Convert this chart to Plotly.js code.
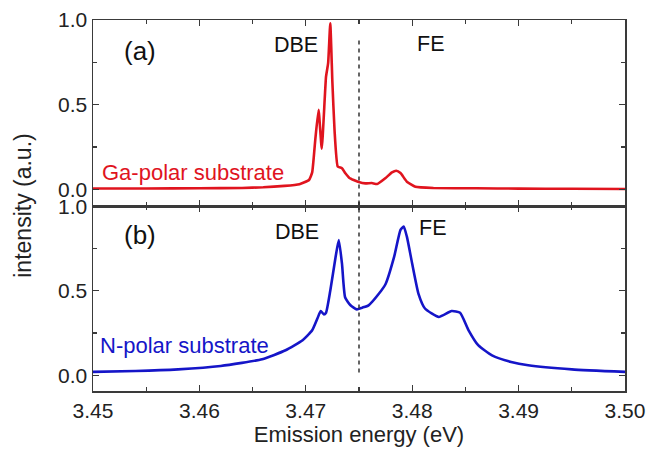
<!DOCTYPE html>
<html>
<head>
<meta charset="utf-8">
<script src="https://cdn.plot.ly/plotly-3.0.1.min.js"></script>
<style>html,body{margin:0;padding:0;background:#fff;}#chart{width:654px;height:450px;}</style>
</head>
<body>
<div id="chart"></div>
<script>
// Panel (a): Ga-polar substrate
const energyA = [3.450, 3.455, 3.460, 3.464, 3.466, 3.468, 3.4694, 3.4703, 3.4706, 3.4709, 3.4712, 3.4715, 3.4719, 3.4721, 3.4723, 3.4725, 3.4727, 3.4730, 3.4734, 3.4737, 3.4741, 3.4745, 3.4749, 3.4756, 3.4762, 3.4767, 3.4775, 3.4781, 3.4785, 3.4789, 3.4795, 3.4803, 3.482, 3.486, 3.490, 3.495, 3.500];
const intensityA = [0.005, 0.005, 0.006, 0.008, 0.012, 0.020, 0.030, 0.055, 0.10, 0.30, 0.47, 0.24, 0.665, 0.745, 0.98, 0.63, 0.35, 0.135, 0.125, 0.096, 0.067, 0.055, 0.045, 0.035, 0.037, 0.031, 0.067, 0.100, 0.110, 0.096, 0.045, 0.015, 0.008, 0.006, 0.004, 0.003, 0.002];
// Panel (b): N-polar substrate
const energyB = [3.450, 3.454, 3.458, 3.462, 3.4659, 3.4681, 3.4697, 3.4706, 3.4711, 3.4714, 3.4717, 3.4719, 3.4723, 3.4728, 3.4731, 3.4734, 3.4737, 3.4742, 3.4748, 3.4753, 3.4759, 3.4769, 3.4775, 3.4783, 3.4789, 3.4792, 3.4795, 3.4800, 3.4806, 3.4812, 3.4825, 3.4837, 3.4845, 3.4853, 3.4862, 3.4875, 3.4893, 3.4909, 3.495, 3.500];
const intensityB = [0.02, 0.025, 0.035, 0.055, 0.095, 0.148, 0.207, 0.266, 0.337, 0.38, 0.36, 0.37, 0.50, 0.70, 0.80, 0.66, 0.46, 0.414, 0.39, 0.40, 0.414, 0.485, 0.54, 0.70, 0.86, 0.88, 0.82, 0.66, 0.48, 0.395, 0.345, 0.38, 0.37, 0.266, 0.178, 0.118, 0.079, 0.059, 0.035, 0.02];
const xTickVals = [3.45, 3.46, 3.47, 3.48, 3.49, 3.50];
const xTickText = ['3.45', '3.46', '3.47', '3.48', '3.49', '3.50'];
const yTickVals = [0.0, 0.5, 1.0];
const yTickText = ['0.0', '0.5', '1.0'];
const labelA = 'Ga-polar substrate';
const labelB = 'N-polar substrate';
const dividerEnergy = 3.475;

const FONT = 'Liberation Sans, Arial, sans-serif';
const AXC = '#3a3a3a';
const red = '#e0141e';
const blue = '#1515c8';

const traces = [
  {x: energyA, y: intensityA, xaxis: 'x2', yaxis: 'y2', type: 'scatter', mode: 'lines',
   line: {color: red, width: 2.6, shape: 'spline', smoothing: 0.4}, hoverinfo: 'skip'},
  {x: energyB, y: intensityB, xaxis: 'x', yaxis: 'y', type: 'scatter', mode: 'lines',
   line: {color: blue, width: 2.6, shape: 'spline', smoothing: 0.5}, hoverinfo: 'skip'}
];

const xBase = {
  range: [3.45, 3.50], tickvals: xTickVals, ticktext: xTickText,
  ticks: 'inside', ticklen: 6, tickwidth: 1.3, tickcolor: AXC,
  minor: {ticks: 'inside', dtick: 0.005, tick0: 3.45, ticklen: 4, tickwidth: 1.2, tickcolor: AXC, showgrid: false},
  showline: true, linecolor: AXC, linewidth: 1.5, mirror: 'ticks',
  showgrid: false, zeroline: false,
  tickfont: {family: FONT, size: 21, color: '#222'}
};
const yBase = {
  tickvals: yTickVals, ticktext: yTickText,
  ticks: 'inside', ticklen: 6, tickwidth: 1.3, tickcolor: AXC,
  minor: {ticks: 'inside', dtick: 0.25, tick0: 0, ticklen: 4, tickwidth: 1.2, tickcolor: AXC, showgrid: false},
  showline: true, linecolor: AXC, linewidth: 1.5, mirror: 'ticks',
  showgrid: false, zeroline: false,
  tickfont: {family: FONT, size: 21, color: '#222'}
};

const annFont = {family: FONT, size: 21.5, color: '#111'};
const layout = {
  width: 654, height: 450,
  margin: {l: 93, r: 29, t: 20, b: 59},
  paper_bgcolor: '#fff', plot_bgcolor: '#fff',
  showlegend: false,
  xaxis: Object.assign({}, xBase, {anchor: 'y', domain: [0, 1],
    title: {text: 'Emission energy (eV)', font: {family: FONT, size: 22, color: '#222'}, standoff: 4}}),
  xaxis2: Object.assign({}, xBase, {anchor: 'y2', matches: 'x', showticklabels: false, domain: [0, 1]}),
  yaxis: Object.assign({}, yBase, {domain: [0, 0.498], range: [-0.093, 1.0]}),
  yaxis2: Object.assign({}, yBase, {domain: [0.498, 1], range: [-0.1, 1.0]}),
  annotations: [
    {xref: 'paper', yref: 'paper', x: -0.133, y: 0.5, text: 'intensity (a.u.)', textangle: -90,
     showarrow: false, font: {family: FONT, size: 23, color: '#222'}, xanchor: 'center', yanchor: 'middle'},
    {xref: 'x2', yref: 'y2', x: 3.45437, y: 0.817, text: '(a)', showarrow: false, font: {family: FONT, size: 26, color: '#111'}},
    {xref: 'x2', yref: 'y2', x: 3.46908, y: 0.853, text: 'DBE', showarrow: false, font: annFont},
    {xref: 'x2', yref: 'y2', x: 3.48172, y: 0.861, text: 'FE', showarrow: false, font: annFont},
    {xref: 'x2', yref: 'y2', x: 3.45066, y: 0.102, text: labelA, showarrow: false, xanchor: 'left', font: {family: FONT, size: 22, color: red}},
    {xref: 'x', yref: 'y', x: 3.45437, y: 0.828, text: '(b)', showarrow: false, font: {family: FONT, size: 26, color: '#111'}},
    {xref: 'x', yref: 'y', x: 3.46917, y: 0.846, text: 'DBE', showarrow: false, font: annFont},
    {xref: 'x', yref: 'y', x: 3.48191, y: 0.870, text: 'FE', showarrow: false, font: annFont},
    {xref: 'x', yref: 'y', x: 3.45047, y: 0.178, text: labelB, showarrow: false, xanchor: 'left', font: {family: FONT, size: 22, color: blue}}
  ],
  shapes: [
    {type: 'line', xref: 'x', yref: 'paper', x0: dividerEnergy, x1: dividerEnergy, y0: 0.05, y1: 0.946,
     line: {color: '#333', width: 1.5, dash: '4px,4px'}}
  ]
};

Plotly.newPlot('chart', traces, layout, {staticPlot: true, displayModeBar: false});
</script>
</body>
</html>
